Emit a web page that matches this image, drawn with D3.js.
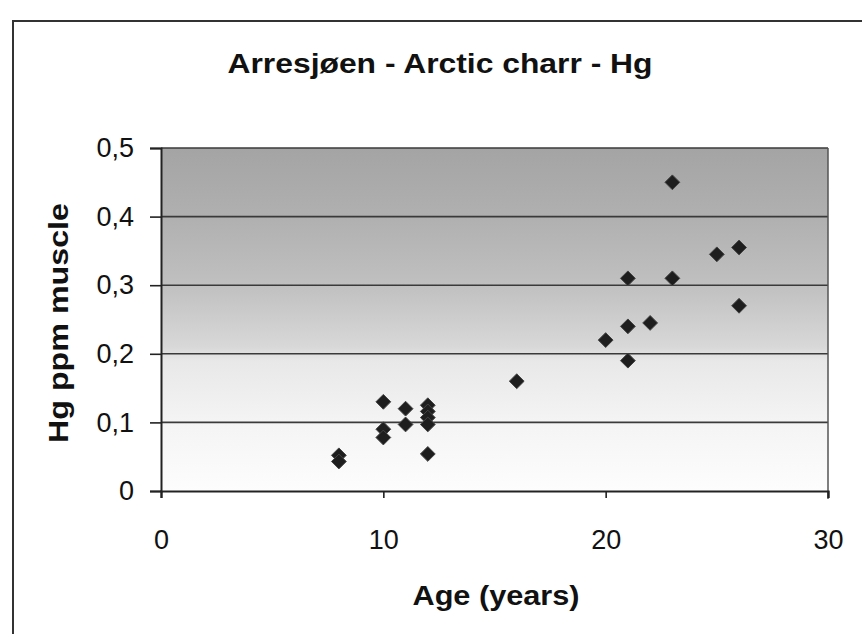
<!DOCTYPE html>
<html><head><meta charset="utf-8">
<script src="https://cdn.jsdelivr.net/npm/d3@7/dist/d3.min.js"></script>
<style>body{margin:0;background:#fff}svg{display:block}text{font-family:"Liberation Sans",Arial,sans-serif;fill:#111}</style>
</head><body>
<script>
const title = "Arresjøen - Arctic charr - Hg";
const xLabel = "Age (years)";
const yLabel = "Hg ppm muscle";
const ageYears = [8, 8, 10, 10, 10, 11, 11, 12, 12, 12, 12, 12, 16, 20, 21, 21, 21, 22, 23, 23, 25, 26, 26];
const hgPpm   = [0.052, 0.043, 0.13, 0.09, 0.078, 0.12, 0.097, 0.125, 0.116, 0.107, 0.097, 0.054, 0.16, 0.22, 0.31, 0.24, 0.19, 0.245, 0.45, 0.31, 0.345, 0.355, 0.27];
const xTicks = [0, 10, 20, 30];
const yTicks = [0, 0.1, 0.2, 0.3, 0.4, 0.5];

const W = 862, H = 634;
const svg = d3.select("body").append("svg").attr("width", W).attr("height", H);
const m = {left: 161, right: W - 828, top: 148, bottom: H - 491};
const x = d3.scaleLinear().domain([0, 30]).range([m.left, W - m.right]);
const y = d3.scaleLinear().domain([0, 0.5]).range([H - m.bottom, m.top]);

// outer frame
svg.append("rect").attr("x", 13).attr("y", 21).attr("width", 1000).attr("height", 800)
  .attr("fill", "none").attr("stroke", "#333").attr("stroke-width", 2);

// background gradient
const defs = svg.append("defs");
const g = defs.append("linearGradient").attr("id", "bg").attr("x1", 0).attr("y1", 0).attr("x2", 0).attr("y2", 1);
[[0, "#a4a4a4"], [0.2, "#b0b0b0"], [0.4, "#c0c0c0"], [0.58, "#d8d8d8"], [0.62, "#e8e8e8"], [0.8, "#f4f4f4"], [1, "#fdfdfd"]]
  .forEach(([o, c]) => g.append("stop").attr("offset", o).attr("stop-color", c));
svg.append("rect").attr("x", x(0)).attr("y", y(0.5)).attr("width", x(30) - x(0)).attr("height", y(0) - y(0.5))
  .attr("fill", "url(#bg)");

// gridlines
svg.append("g").selectAll("line").data(yTicks.filter(d => d > 0)).join("line")
  .attr("x1", x(0)).attr("x2", x(30)).attr("y1", d => y(d)).attr("y2", d => y(d))
  .attr("stroke", "#3a3a3a").attr("stroke-width", 1.6);
// right border
svg.append("line").attr("x1", x(30)).attr("x2", x(30)).attr("y1", y(0.5)).attr("y2", y(0) + 8)
  .attr("stroke", "#555").attr("stroke-width", 1.5);

// axes
const yAxis = d3.axisLeft(y).tickValues(yTicks).tickSize(11).tickPadding(16)
  .tickFormat(d => d === 0 ? "0" : d3.format(".1f")(d).replace(".", ","));
const ya = svg.append("g").attr("transform", `translate(${x(0)},0)`).call(yAxis);
ya.select(".domain").attr("stroke", "#222").attr("stroke-width", 2);
ya.selectAll(".tick line").attr("stroke", "#222").attr("stroke-width", 1.6);
ya.selectAll("text").attr("font-size", 27).attr("fill", "#111");

const xAxis = d3.axisBottom(x).tickValues(xTicks).tickSize(7).tickPadding(28).tickFormat(d3.format("d"));
const xa = svg.append("g").attr("transform", `translate(0,${y(0)})`).call(xAxis);
xa.select(".domain").attr("stroke", "#222").attr("stroke-width", 2.2);
xa.selectAll(".tick line").attr("stroke", "#222").attr("stroke-width", 1.6);
xa.selectAll("text").attr("font-size", 27).attr("fill", "#111").attr("dy", "0").attr("y", 58);

// points
const diamond = d3.symbol().type(d3.symbolDiamond2).size(140);
svg.append("g").selectAll("path").data(ageYears.map((a, i) => [a, hgPpm[i]])).join("path")
  .attr("d", diamond).attr("transform", d => `translate(${x(d[0])},${y(d[1])})`)
  .attr("fill", "#1e1e1e").attr("stroke", "#444").attr("stroke-width", 1);

// titles
svg.append("text").attr("x", 440).attr("y", 73).attr("text-anchor", "middle")
  .attr("font-size", 27).attr("font-weight", "bold")
  .attr("textLength", 425).attr("lengthAdjust", "spacingAndGlyphs").text(title);
svg.append("text").attr("x", 496).attr("y", 605).attr("text-anchor", "middle")
  .attr("font-size", 27).attr("font-weight", "bold")
  .attr("textLength", 167).attr("lengthAdjust", "spacingAndGlyphs").text(xLabel);
svg.append("text").attr("transform", "translate(68,323) rotate(-90)").attr("text-anchor", "middle")
  .attr("font-size", 27).attr("font-weight", "bold")
  .attr("textLength", 240).attr("lengthAdjust", "spacingAndGlyphs").text(yLabel);
</script>
</body></html>
